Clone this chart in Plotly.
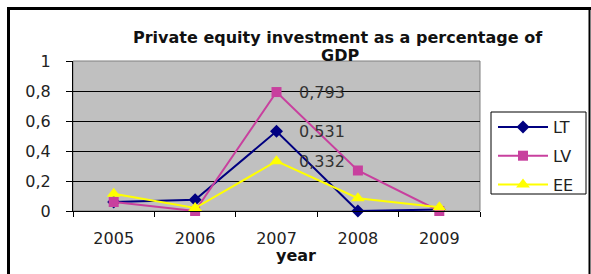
import plotly.graph_objects as go

years = ["2005", "2006", "2007", "2008", "2009"]
lt = [0.06, 0.075, 0.531, 0.0, 0.01]
lv = [0.06, 0.0, 0.793, 0.27, 0.0]
ee = [0.115, 0.02, 0.332, 0.085, 0.025]
label_year = "2007"
label_vals = [0.793, 0.531, 0.332]
label_texts = ["0,793", "0,531", "0,332"]

W, H = 591, 274
OFF = 0  # body margin removed via post_script
# plot area in page pixel coordinates
PL, PR, PT, PB = 73, 480, 61, 211
L, R, T, B = PL - OFF, PR - OFF, PT - OFF, PB - OFF
pw, ph = R - L, B - T

def px(x):
    return (x - OFF - L) / pw

def py(y):
    return (B - (y - OFF)) / ph

FONT = "DejaVu Sans"

fig = go.Figure()
series = [
    ("LT", lt, "#000080", "diamond", 10),
    ("LV", lv, "#C8409E", "square", 10),
    ("EE", ee, "#FFFF00", "triangle-up", 12),
]
for name, vals, col, sym, ms in series:
    fig.add_trace(go.Scatter(
        x=years, y=vals, name=name, mode="lines+markers",
        line=dict(color=col, width=2),
        marker=dict(symbol=sym, size=ms, color=col),
        cliponaxis=False, legendgroup=name,
    ))

label_idx = years.index(label_year)
for v, t in zip(label_vals, label_texts):
    fig.add_annotation(x=label_idx, y=v, text=t, showarrow=False,
                       xanchor="left", yanchor="middle", xshift=20,
                       font=dict(family=FONT, size=16, color="#333333"))

fig.add_annotation(x=px(338), y=py(37), xref="paper", yref="paper",
                   text="<b>Private equity investment as a percentage of</b>",
                   showarrow=False, xanchor="center", yanchor="middle",
                   font=dict(family=FONT, size=16, color="#111111"))
fig.add_annotation(x=px(340), y=py(56), xref="paper", yref="paper",
                   text="<b>GDP</b>", showarrow=False, xanchor="center", yanchor="middle",
                   font=dict(family=FONT, size=16, color="#111111"))
fig.add_annotation(x=px(296), y=py(255), xref="paper", yref="paper",
                   text="<b>year</b>", showarrow=False, xanchor="center", yanchor="middle",
                   font=dict(family=FONT, size=16, color="#111111"))

# plot area gray border
fig.add_shape(type="rect", xref="paper", yref="paper", x0=0, x1=1, y0=0, y1=1,
              line=dict(color="#808080", width=1), layer="below")
# outer chart border
fig.add_shape(type="line", xref="paper", yref="paper", x0=px(7), x1=px(600),
              y0=py(8.5), y1=py(8.5), line=dict(color="black", width=3))
fig.add_shape(type="line", xref="paper", yref="paper", x0=px(8.5), x1=px(8.5),
              y0=py(7), y1=py(290), line=dict(color="black", width=3))
fig.add_shape(type="line", xref="paper", yref="paper", x0=px(589.5), x1=px(589.5),
              y0=py(10), y1=py(290), line=dict(color="black", width=2))
# legend box
fig.add_shape(type="rect", xref="paper", yref="paper", x0=px(491), x1=px(586),
              y0=py(194), y1=py(112), line=dict(color="black", width=1),
              fillcolor="white", layer="below")

fig.update_layout(
    width=W, height=H,
    margin=dict(l=L, r=W - R, t=T, b=H - B, autoexpand=False),
    paper_bgcolor="white", plot_bgcolor="#C0C0C0",
    separators=", ",
    font=dict(family=FONT, size=16, color="#222222"),
    showlegend=True,
    legend=dict(x=px(493), y=py(110), xanchor="left", yanchor="top",
                bgcolor="rgba(0,0,0,0)", borderwidth=0,
                font=dict(family=FONT, size=16, color="#222222"),
                itemwidth=50, tracegroupgap=5, traceorder="grouped"),
    xaxis=dict(type="category", categoryorder="array", categoryarray=years,
               range=[-0.5, len(years) - 0.5],
               showgrid=False, showline=True, linecolor="black",
               linewidth=1, ticks="outside", tickson="boundaries", ticklen=5,
               tickcolor="black", ticklabelstandoff=13, zeroline=False,
               automargin=False, tickangle=0),
    yaxis=dict(range=[0, 1], dtick=0.2, showgrid=True, gridcolor="black", gridwidth=1,
               showline=True, linecolor="black", linewidth=1, ticks="outside",
               ticklen=6, tickcolor="black", ticklabelstandoff=12, zeroline=False,
               automargin=False),
)

fig.write_html("out.html", config={"displayModeBar": False},
               post_script="document.body.style.margin='0';document.body.style.overflow='hidden';")
